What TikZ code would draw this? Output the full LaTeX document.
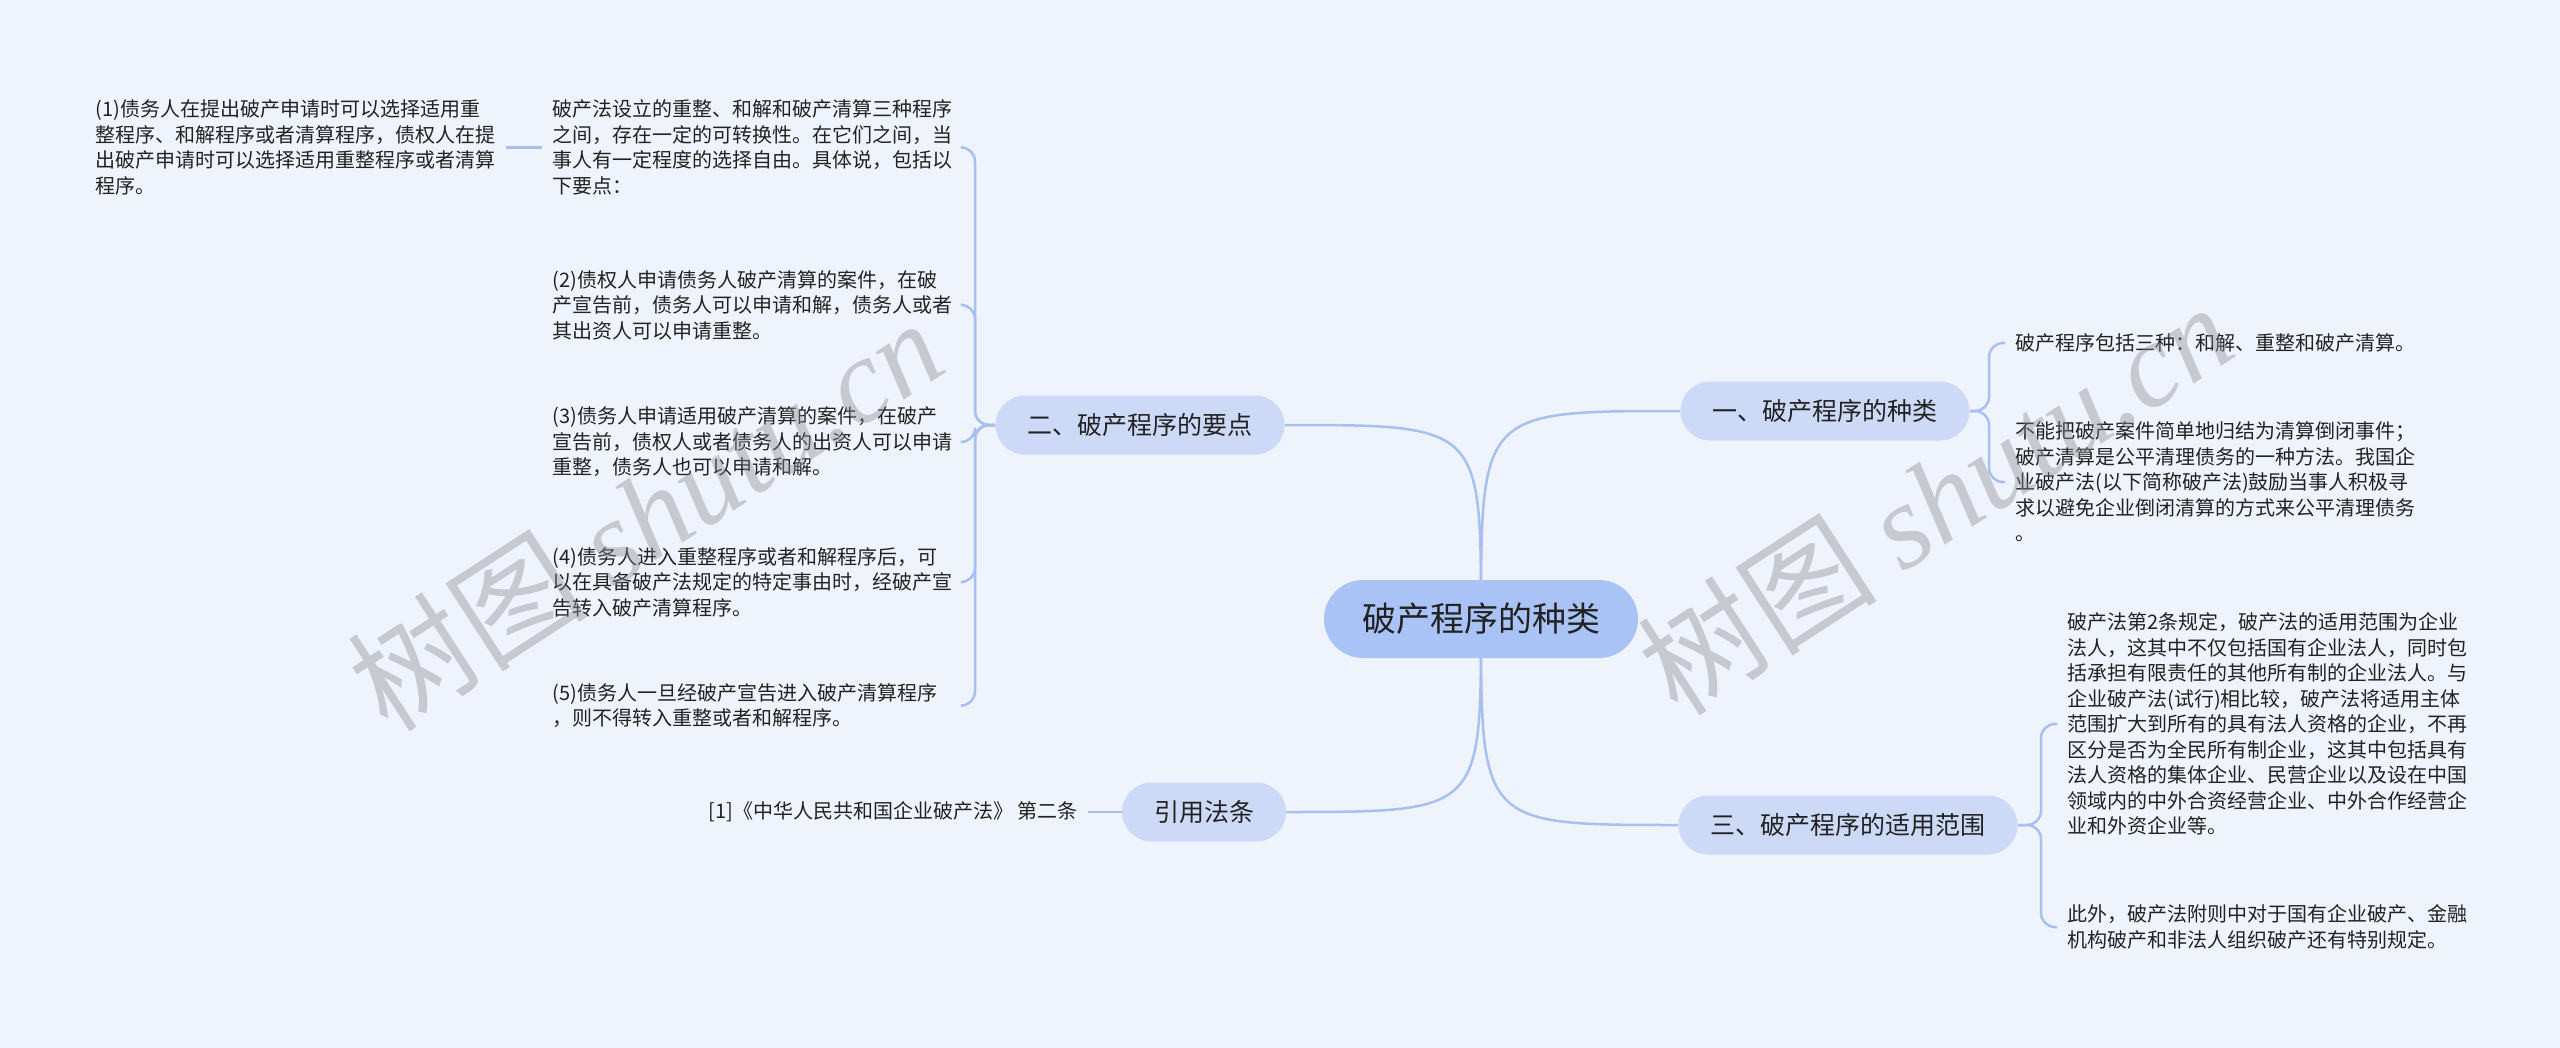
\documentclass[tikz,border=0pt]{standalone}
\usepackage{fontspec}
\setmainfont{Noto Sans CJK SC}
\newfontfamily\wmserif{Liberation Serif}
\usetikzlibrary{backgrounds}
\pgfdeclarelayer{links}
\pgfsetlayers{background,links,main}
\definecolor{bgc}{RGB}{239,243,251}
\definecolor{linkc}{RGB}{168,192,240}
\definecolor{rootc}{RGB}{170,195,247}
\definecolor{branchc}{RGB}{204,218,248}
\definecolor{txt}{RGB}{34,34,34}
\definecolor{wmc}{RGB}{140,140,145}
\begin{document}
\begin{tikzpicture}[x=0.5pt,y=-0.5pt,
  root/.style={fill=rootc, rounded corners=19.5pt, minimum height=39pt, inner xsep=19pt, inner ysep=0pt, font=\fontsize{17}{20}\selectfont, text=txt},
  branch/.style={fill=branchc, rounded corners=14.75pt, minimum height=29.5pt, inner xsep=16pt, inner ysep=0pt, font=\fontsize{12.5}{15}\selectfont, text=txt},
  leaf/.style={align=left, text width=200pt, inner xsep=5pt, inner ysep=2pt, font=\fontsize{10}{12.75}\selectfont, text=txt},
  leafs/.style={align=left, inner xsep=5pt, inner ysep=2pt, font=\fontsize{10}{12.75}\selectfont, text=txt},
  link/.style={draw=linkc, line width=1.25pt},
  bracket/.style={link, rounded corners=7pt},
  wm/.style={text=wmc, opacity=0.4, rotate=33, font=\fontsize{60}{60}\selectfont}
]
\begin{pgfonlayer}{background}
\fill[bgc] (0,0) rectangle (2560,1048);
\end{pgfonlayer}
\useasboundingbox (0,0) rectangle (2560,1048);

% main nodes
\node[root] (c) at (1481,619) {破产程序的种类};
\node[branch] (b1) at (1825,411) {一、破产程序的种类};
\node[branch] (b2) at (1140,425) {二、破产程序的要点};
\node[branch] (b4) at (1204,812) {引用法条};
\node[branch] (b3) at (1848,825) {三、破产程序的适用范围};

% left leaves
\node[leaf, anchor=west] (a0) at (542,147.5) {破产法设立的重整、和解和破产清算三种程序\\之间，存在一定的可转换性。在它们之间，当\\事人有一定程度的选择自由。具体说，包括以\\下要点：};
\node[leaf, anchor=west] (a1) at (85,147.5) {(1)债务人在提出破产申请时可以选择适用重\\整程序、和解程序或者清算程序，债权人在提\\出破产申请时可以选择适用重整程序或者清算\\程序。};
\node[leaf, anchor=west] (a2) at (542,305) {(2)债权人申请债务人破产清算的案件，在破\\产宣告前，债务人可以申请和解，债务人或者\\其出资人可以申请重整。};
\node[leaf, anchor=west] (a3) at (542,442) {(3)债务人申请适用破产清算的案件，在破产\\宣告前，债权人或者债务人的出资人可以申请\\重整，债务人也可以申请和解。};
\node[leaf, anchor=west] (a4) at (542,582) {(4)债务人进入重整程序或者和解程序后，可\\以在具备破产法规定的特定事由时，经破产宣\\告转入破产清算程序。};
\node[leaf, anchor=west] (a5) at (542,705.5) {(5)债务人一旦经破产宣告进入破产清算程序\\，则不得转入重整或者和解程序。};
\node[leafs, anchor=east] (l1) at (1088,812) {[1]《中华人民共和国企业破产法》 第二条};

% right leaves
\node[leafs, anchor=west] (r1) at (2005,343) {破产程序包括三种：和解、重整和破产清算。};
\node[leaf, anchor=west] (r2) at (2005,482) {不能把破产案件简单地归结为清算倒闭事件；\\破产清算是公平清理债务的一种方法。我国企\\业破产法(以下简称破产法)鼓励当事人积极寻\\求以避免企业倒闭清算的方式来公平清理债务\\。};
\node[leaf, anchor=west] (r3) at (2057,724) {破产法第2条规定，破产法的适用范围为企业\\法人，这其中不仅包括国有企业法人，同时包\\括承担有限责任的其他所有制的企业法人。与\\企业破产法(试行)相比较，破产法将适用主体\\范围扩大到所有的具有法人资格的企业，不再\\区分是否为全民所有制企业，这其中包括具有\\法人资格的集体企业、民营企业以及设在中国\\领域内的中外合资经营企业、中外合作经营企\\业和外资企业等。};
\node[leaf, anchor=west] (r4) at (2057,927) {此外，破产法附则中对于国有企业破产、金融\\机构破产和非法人组织破产还有特别规定。};

% spines
\coordinate (s1) at (1989,411);
\coordinate (s2) at (975,425);
\coordinate (s3) at (2041,825);

\begin{pgfonlayer}{links}
\draw[link] (c.center) .. controls (c.center |- b1.west) .. (b1.west);
\draw[link] (c.center) .. controls (c.center |- b2.east) .. (b2.east);
\draw[link] (c.center) .. controls (c.center |- b4.east) .. (b4.east);
\draw[link] (c.center) .. controls (c.center |- b3.west) .. (b3.west);

\draw[bracket] (b2.west) -- (s2) -- (s2 |- a0.east) -- (a0.east);
\draw[bracket] (b2.west) -- (s2) -- (s2 |- a2.east) -- (a2.east);
\draw[bracket] (b2.west) -- (s2) -- (s2 |- a3.east) -- (a3.east);
\draw[bracket] (b2.west) -- (s2) -- (s2 |- a4.east) -- (a4.east);
\draw[bracket] (b2.west) -- (s2) -- (s2 |- a5.east) -- (a5.east);
\draw[link] (a1.east) -- (a0.west);
\draw[link] (l1.east) -- (b4.west);

\draw[bracket] (b1.east) -- (s1) -- (s1 |- r1.west) -- (r1.west);
\draw[bracket] (b1.east) -- (s1) -- (s1 |- r2.west) -- (r2.west);
\draw[bracket] (b3.east) -- (s3) -- (s3 |- r3.west) -- (r3.west);
\draw[bracket] (b3.east) -- (s3) -- (s3 |- r4.west) -- (r4.west);
\end{pgfonlayer}

% watermarks
\node[wm] (w1) at (645,514) {树图 {\wmserif\itshape shutu.cn}};
\node[wm] (w2) at (1935,498) {树图 {\wmserif\itshape shutu.cn}};
\end{tikzpicture}
\end{document}
